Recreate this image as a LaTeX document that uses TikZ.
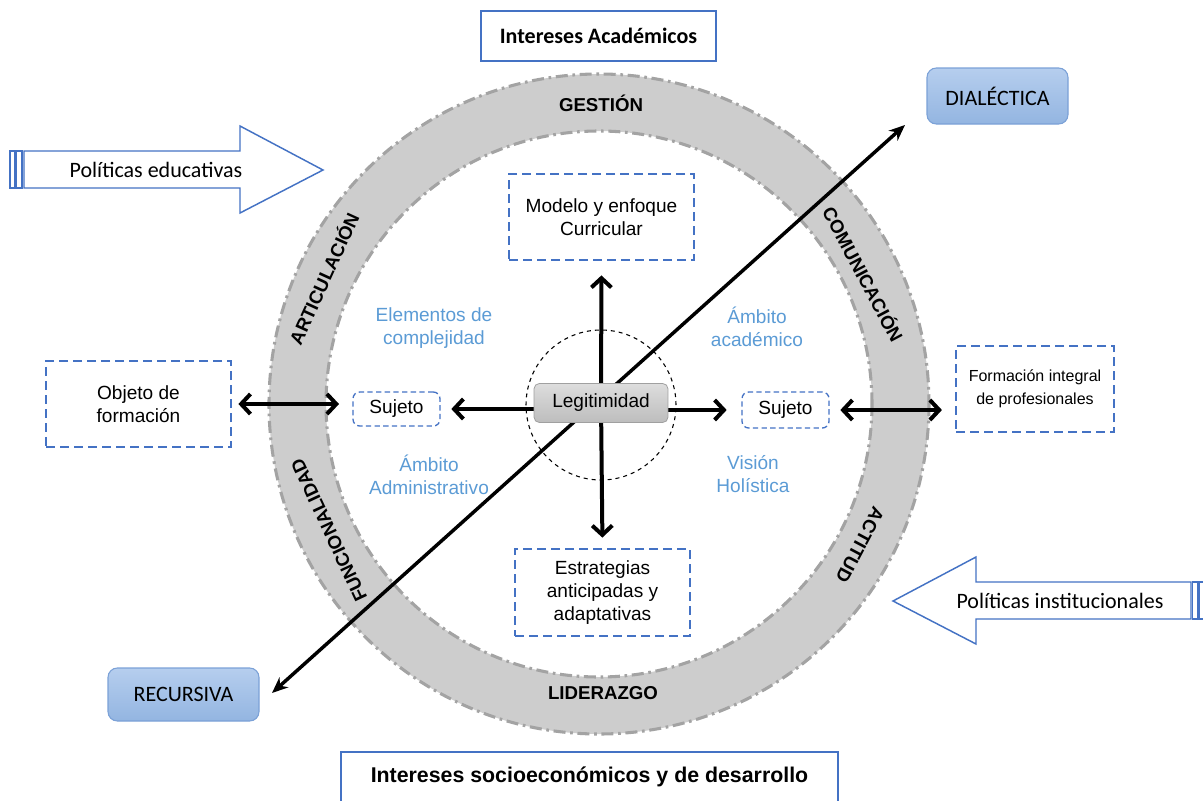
\documentclass[tikz,border=0pt]{standalone}
\usepackage{fontspec}
\setmainfont{Liberation Sans}
\newfontfamily\calfont{Carlito}
\usetikzlibrary{arrows.meta,calc}

\definecolor{boxblue}{HTML}{4472C4}
\definecolor{labelblue}{HTML}{5B9BD5}
\definecolor{ringfill}{HTML}{CDCDCD}
\definecolor{ringedge}{HTML}{A3A3A3}
\definecolor{btntop}{HTML}{B6CEEE}
\definecolor{btnbot}{HTML}{93B5E1}
\definecolor{btnedge}{HTML}{7BA1D7}
\definecolor{legtop}{HTML}{DDDDDD}
\definecolor{legbot}{HTML}{BDBDBD}
\definecolor{legedge}{HTML}{A0A0A0}

\pgfdeclarelayer{ringlayer}
\pgfdeclarelayer{linelayer}
\pgfsetlayers{ringlayer,linelayer,main}

\begin{document}
\begin{tikzpicture}[x=0.75pt,y=-0.75pt,
  wh/.style 2 args={minimum width=#1*0.75pt, minimum height=#2*0.75pt},
  arial/.style={font=\fontsize{14.3}{17.25}\selectfont},
  arialsmall/.style={font=\fontsize{12}{17.25}\selectfont},
  calib/.style={font=\calfont\fontsize{16.5}{19}\selectfont},
  titlebox/.style={draw=boxblue, line width=1.1pt, fill=white, inner sep=0pt},
  dashbox/.style={draw=boxblue, line width=1.1pt, dash pattern=on 7pt off 3.5pt,
    inner sep=0pt, align=center, arial},
  subjbox/.style={draw=boxblue, line width=1pt, dash pattern=on 4pt off 2.5pt,
    rounded corners=5pt, inner sep=0pt, arial},
  pill/.style={draw=btnedge, line width=0.8pt, rounded corners=7pt,
    top color=btntop, bottom color=btnbot, inner sep=0pt, calib},
  ringlabel/.style={font=\bfseries\fontsize{14}{16}\selectfont},
  bluelabel/.style={text=labelblue, align=center, arial},
  spoke/.style={line width=3pt, -{Straight Barb[length=7pt,width=15pt]}},
  twoway/.style={line width=3pt,
    {Straight Barb[length=7pt,width=15pt]}-{Straight Barb[length=7pt,width=15pt]}},
  axisline/.style={line width=2.6pt,
    {Stealth[length=12pt,width=10pt]}-{Stealth[length=12pt,width=10pt]}},
  bigarrow/.style={draw=boxblue, line width=1.1pt, fill=white, line join=miter},
]
\useasboundingbox (0,0) rectangle (1203,800);

% ---------- the ring ----------
\begin{pgfonlayer}{ringlayer}
  \fill[ringfill, even odd rule] (599,404) circle[radius=330] (599,404) circle[radius=273];
  \draw[ringedge, line width=2.3pt, dash pattern=on 9pt off 3.5pt on 2pt off 3.5pt]
    (599,404) circle[radius=330];
  \draw[ringedge, line width=2.3pt, dash pattern=on 9pt off 3.5pt on 2pt off 3.5pt]
    (599,404) circle[radius=273];
\end{pgfonlayer}

\node[ringlabel] (gestion) at (601,103) {GESTIÓN};
\node[ringlabel] (liderazgo) at (603,693) {LIDERAZGO};
\node[ringlabel, rotate=65.5] (articulacion) at (323,278) {ARTICULACIÓN};
\node[ringlabel, rotate=-62] (comunicacion) at (864,274) {COMUNICACIÓN};
\node[ringlabel, rotate=115] (funcionalidad) at (329,530) {FUNCIONALIDAD};
\node[ringlabel, rotate=-118] (actitud) at (860,545) {ACTITUD};

% ---------- top and bottom frames ----------
\node[titlebox, wh={235}{50}, font=\calfont\bfseries\fontsize{16.5}{19}\selectfont]
  (academicos) at (598.5,36) {Intereses Académicos};
\draw[boxblue, line width=1.1pt] (341,830) -- (341,752) -- (838,752) -- (838,830);
\node[font=\bfseries\fontsize{16}{19}\selectfont] (socio) at (589.5,777)
  {Intereses socioeconómicos y de desarrollo};

% ---------- poles of the axis ----------
\node[pill, wh={141}{56}] (dialectica) at (997.5,96) {DIALÉCTICA};
\node[pill, wh={151}{53}] (recursiva) at (183.5,694.5) {RECURSIVA};
\coordinate (axisNE) at (905,125);
\coordinate (axisSW) at (272,693);

% ---------- policy arrows ----------
\draw[bigarrow] (24,151) -- (240,151) -- (240,126) -- (323,170) -- (240,213)
  -- (240,188) -- (24,188) -- cycle;
\draw[bigarrow] (10,151) rectangle (15,188);
\draw[bigarrow] (16.5,151) rectangle (22,188);
\node[calib] (poleducativas) at (156,170) {Políticas educativas};

\draw[bigarrow] (1191,582) -- (976,582) -- (976,557) -- (893,601) -- (976,644)
  -- (976,619) -- (1191,619) -- cycle;
\draw[bigarrow] (1192.5,582) rectangle (1198,619);
\draw[bigarrow] (1199.5,582) rectangle (1206,619);
\node[calib] (polinstitucionales) at (1060,601) {Políticas institucionales};

% ---------- boxes ----------
\node[dashbox, wh={185}{86}] (modelo) at (601.5,217) {Modelo y enfoque\\Curricular};
\node[dashbox, wh={175}{87}] (estrategias) at (602.5,592.5)
  {Estrategias\\anticipadas y\\adaptativas};
\node[dashbox, wh={185}{86}] (objeto) at (138.5,404) {Objeto de\\formación};
\node[dashbox, wh={158}{86}, arialsmall] (formacion) at (1035,389)
  {Formación integral\\de profesionales};
\node[subjbox, wh={87}{34}] (sujetoL) at (396.5,409) {Sujeto};
\node[subjbox, wh={87}{36}] (sujetoR) at (785.5,410) {Sujeto};

\node[circle, draw, dashed, line width=0.8pt, minimum size=150*0.75pt] (core) at (601,405) {};
\node[draw=legedge, line width=0.6pt, rounded corners=4pt, top color=legtop,
  bottom color=legbot, wh={134}{39}, inner sep=0pt, arial] (legit) at (601,403) {Legitimidad};

% ---------- blue labels ----------
\node[bluelabel] (complejidad) at (434,328.5) {Elementos de\\complejidad};
\node[bluelabel] (academico) at (757,327) {Ámbito\\académico};
\node[bluelabel] (administrativo) at (429,475) {Ámbito\\Administrativo};
\node[bluelabel] (holistica) at (753,474) {Visión\\Holística};

% ---------- connectors ----------
\begin{pgfonlayer}{linelayer}
  \draw[axisline] (axisSW) -- (axisNE);
  \draw[spoke, shorten >=11pt] (legit.center) -- (modelo.south);
  \draw[spoke, shorten >=8pt] (legit.center) -- (estrategias.north);
  \draw[spoke, shorten >=8pt] (legit.center |- sujetoL.east) -- (sujetoL.east);
  \draw[spoke, shorten >=11pt] (legit.center |- sujetoR.west) -- (sujetoR.west);
  \draw[twoway, shorten <=5pt, shorten >=10pt] (objeto.east) -- (objeto.east -| sujetoL.west);
  \draw[twoway, shorten <=8pt, shorten >=10pt] (sujetoR.east) -- (sujetoR.east -| formacion.west);
\end{pgfonlayer}
\end{tikzpicture}
\end{document}
